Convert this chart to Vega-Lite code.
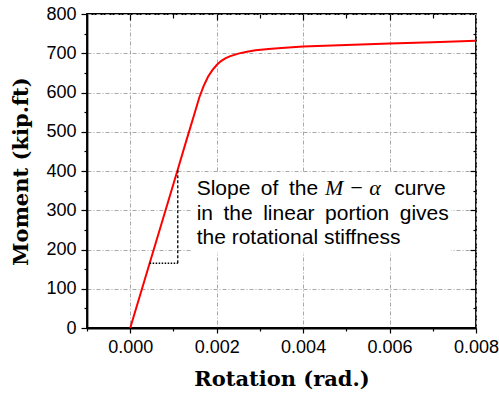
{
  "$schema": "https://vega.github.io/schema/vega-lite/v6.json",
  "width": 389,
  "height": 314,
  "autosize": "none",
  "padding": {"left": 87, "top": 14, "right": 23, "bottom": 67},
  "background": "white",
  "config": {"view": {"stroke": "black", "strokeWidth": 1.8}},
  "datasets": {
    "box": [{"x": 0.00141, "x2": 0.00742, "y": 193, "y2": 395}],
    "curve": [
      {"rotation": 0.0, "moment": 0},
      {"rotation": 0.0011, "moment": 404},
      {"rotation": 0.0013, "moment": 478},
      {"rotation": 0.0015, "moment": 551},
      {"rotation": 0.0016, "moment": 588},
      {"rotation": 0.0017, "moment": 617},
      {"rotation": 0.0018, "moment": 640},
      {"rotation": 0.0019, "moment": 657},
      {"rotation": 0.002, "moment": 670},
      {"rotation": 0.0021, "moment": 680},
      {"rotation": 0.0022, "moment": 687},
      {"rotation": 0.0023, "moment": 692},
      {"rotation": 0.0025, "moment": 699},
      {"rotation": 0.0027, "moment": 704},
      {"rotation": 0.0029, "moment": 707.5},
      {"rotation": 0.0032, "moment": 711},
      {"rotation": 0.0035, "moment": 713.5},
      {"rotation": 0.004, "moment": 717},
      {"rotation": 0.005, "moment": 721},
      {"rotation": 0.006, "moment": 725},
      {"rotation": 0.007, "moment": 728},
      {"rotation": 0.008, "moment": 732}
    ],
    "hrule": [{"x": 0.00045, "x2": 0.0011, "y": 165}],
    "vrule": [{"x": 0.0011, "y": 165, "y2": 404}],
    "notes": [
      {"t": "Slope\u2002of\u2002the", "x": 0.001537, "m": 337.8},
      {"t": "curve", "x": 0.006111, "m": 337.8},
      {"t": "in\u2002the\u2002linear\u2002portion\u2002gives", "x": 0.001537, "m": 275.9},
      {"t": "the rotational stiffness", "x": 0.001537, "m": 214}
    ],
    "math": [{"t": "M − α", "x": 0.004507, "m": 337.8}]
  },
  "resolve": {"axis": {"x": "independent", "y": "independent"}},
  "layer": [
    {
      "data": {"name": "box"},
      "mark": {"type": "rect", "fill": "white"},
      "encoding": {
        "x": {"field": "x", "type": "quantitative", "scale": {"domain": [-0.001, 0.008], "nice": false, "zero": false},
          "axis": {"orient": "bottom", "values": [0, 0.002, 0.004, 0.006, 0.008], "format": ".3f", "title": "Rotation (rad.)",
            "grid": true, "gridDash": [4, 2, 1, 2], "gridColor": "#a8a8a8", "gridWidth": 1,
            "tickSize": 5, "tickColor": "black", "tickWidth": 1.2, "domainColor": "black", "domainWidth": 1.8,
            "labelFont": "Liberation Sans", "labelFontSize": 18, "labelColor": "black", "labelPadding": 5, "labelFlush": false, "labelOverlap": false,
            "titleFont": "DejaVu Serif", "titleFontWeight": "bold", "titleFontSize": 21, "titleColor": "black", "titlePadding": 12}},
        "x2": {"field": "x2"},
        "y": {"field": "y", "type": "quantitative", "scale": {"domain": [0, 800], "nice": false},
          "axis": {"orient": "left", "values": [0, 100, 200, 300, 400, 500, 600, 700, 800], "title": "Moment (kip.ft)",
            "grid": true, "gridDash": [4, 2, 1, 2], "gridColor": "#a8a8a8", "gridWidth": 1,
            "tickSize": 6, "tickColor": "black", "tickWidth": 1.2, "domainColor": "black", "domainWidth": 1.8,
            "labelFont": "Liberation Sans", "labelFontSize": 18, "labelColor": "black", "labelPadding": 5, "labelFlush": false, "labelOverlap": false,
            "titleFont": "DejaVu Serif", "titleFontWeight": "bold", "titleFontSize": 21, "titleColor": "black", "titlePadding": 14}},
        "y2": {"field": "y2"}
      }
    },
    {
      "data": {"name": "curve"},
      "mark": {"type": "line", "color": "#ff0000", "strokeWidth": 2},
      "encoding": {
        "x": {"field": "rotation", "type": "quantitative",
          "axis": {"orient": "bottom", "values": [-0.001, 0.001, 0.003, 0.005, 0.007], "labels": false, "domain": false, "grid": false,
            "tickSize": 3, "tickColor": "black", "tickWidth": 1.2, "title": null}},
        "y": {"field": "moment", "type": "quantitative",
          "axis": {"orient": "left", "values": [50, 150, 250, 350, 450, 550, 650, 750], "labels": false, "domain": false, "grid": false,
            "tickSize": 3, "tickColor": "black", "tickWidth": 1.2, "title": null}}
      }
    },
    {
      "data": {"name": "hrule"},
      "mark": {"type": "rule", "color": "black", "strokeWidth": 1.5, "strokeDash": [1.5, 1.5]},
      "encoding": {
        "x": {"field": "x", "type": "quantitative",
          "axis": {"orient": "top", "values": [0, 0.002, 0.004, 0.006], "labels": false, "domain": false, "grid": false,
            "tickSize": -6, "tickColor": "black", "tickWidth": 1.2, "title": null}},
        "x2": {"field": "x2"},
        "y": {"field": "y", "type": "quantitative",
          "axis": {"orient": "right", "values": [100, 200, 300, 400, 500, 600, 700], "labels": false, "domain": false, "grid": false,
            "tickSize": -6, "tickColor": "black", "tickWidth": 1.2, "title": null}}
      }
    },
    {
      "data": {"name": "vrule"},
      "mark": {"type": "rule", "color": "black", "strokeWidth": 1.3, "strokeDash": [3, 2]},
      "encoding": {
        "x": {"field": "x", "type": "quantitative",
          "axis": {"orient": "top", "values": [0.001, 0.003, 0.005, 0.007], "labels": false, "domain": false, "grid": false,
            "tickSize": -4, "tickColor": "black", "tickWidth": 1.2, "title": null}},
        "y": {"field": "y", "type": "quantitative",
          "axis": {"orient": "right", "values": [50, 150, 250, 350, 450, 550, 650, 750], "labels": false, "domain": false, "grid": false,
            "tickSize": -3, "tickColor": "black", "tickWidth": 1.2, "title": null}},
        "y2": {"field": "y2"}
      }
    },
    {
      "data": {"name": "notes"},
      "mark": {"type": "text", "align": "left", "baseline": "alphabetic", "font": "Liberation Sans", "fontSize": 21, "color": "black"},
      "encoding": {
        "x": {"field": "x", "type": "quantitative", "axis": null},
        "y": {"field": "m", "type": "quantitative", "axis": null},
        "text": {"field": "t"}
      }
    },
    {
      "data": {"name": "math"},
      "mark": {"type": "text", "align": "left", "baseline": "alphabetic", "font": "Liberation Serif", "fontStyle": "italic", "fontSize": 22, "color": "black"},
      "encoding": {
        "x": {"field": "x", "type": "quantitative", "axis": null},
        "y": {"field": "m", "type": "quantitative", "axis": null},
        "text": {"field": "t"}
      }
    }
  ]
}
